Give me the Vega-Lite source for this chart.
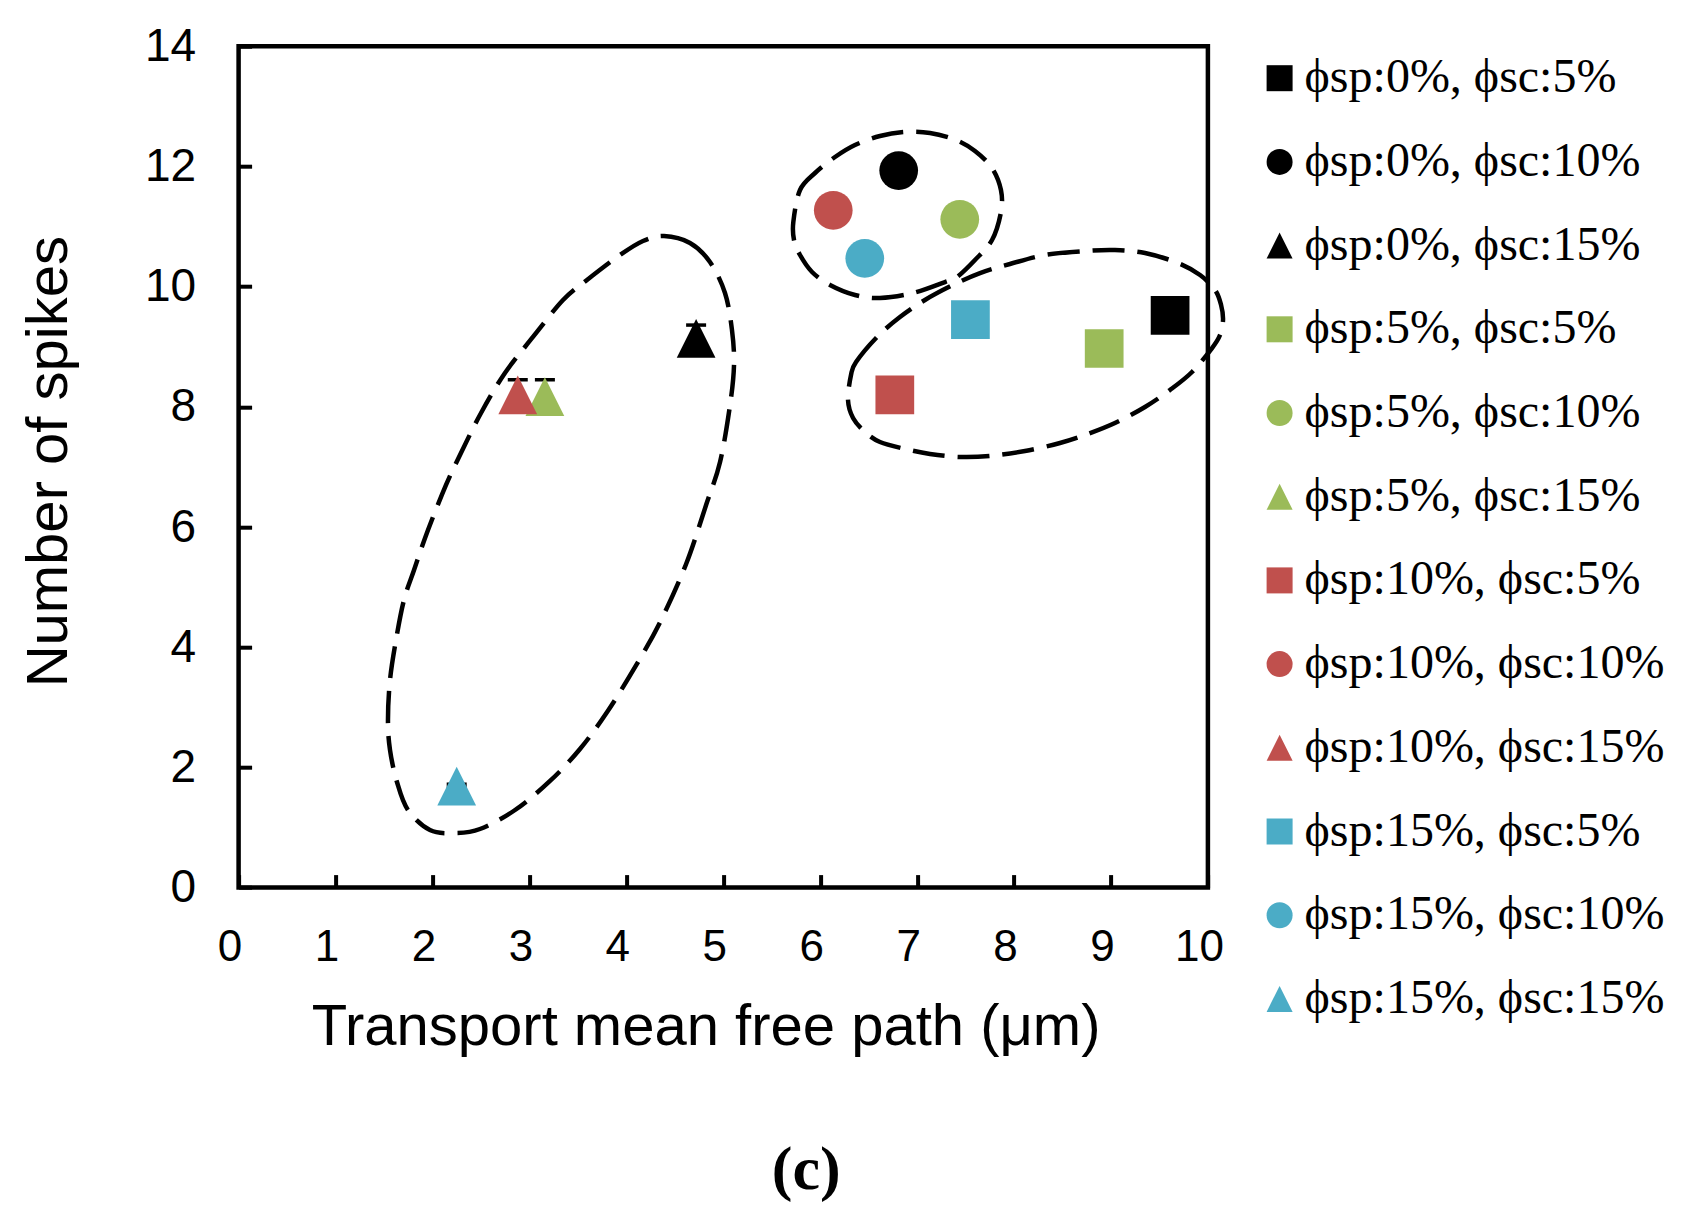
{
  "$schema": "https://vega.github.io/schema/vega-lite/v6.json",
  "width": 969.3,
  "height": 841.4,
  "autosize": {"type": "none"},
  "padding": {"left": 238.6, "top": 46.2, "right": 477.1, "bottom": 343.4},
  "background": "white",
  "title": {"text": "(c)", "orient": "bottom", "anchor": "middle", "frame": "group", "font": "Liberation Serif", "fontSize": 62, "fontWeight": "bold", "color": "black", "dx": 83, "offset": 83},
  "datasets": {
    "points": [
      {"series": "ϕsp:0%, ϕsc:5%", "x": 9.61, "y": 9.52},
      {"series": "ϕsp:0%, ϕsc:10%", "x": 6.81, "y": 11.93},
      {"series": "ϕsp:0%, ϕsc:15%", "x": 4.72, "y": 9.14},
      {"series": "ϕsp:5%, ϕsc:5%", "x": 8.93, "y": 8.97},
      {"series": "ϕsp:5%, ϕsc:10%", "x": 7.44, "y": 11.12},
      {"series": "ϕsp:5%, ϕsc:15%", "x": 3.16, "y": 8.17},
      {"series": "ϕsp:10%, ϕsc:5%", "x": 6.77, "y": 8.2},
      {"series": "ϕsp:10%, ϕsc:10%", "x": 6.135, "y": 11.27},
      {"series": "ϕsp:10%, ϕsc:15%", "x": 2.88, "y": 8.2},
      {"series": "ϕsp:15%, ϕsc:5%", "x": 7.55, "y": 9.45},
      {"series": "ϕsp:15%, ϕsc:10%", "x": 6.46, "y": 10.47},
      {"series": "ϕsp:15%, ϕsc:15%", "x": 2.25, "y": 1.69}
    ],
    "errors": [
      {"series": "ϕsp:0%, ϕsc:15%", "x": 4.72, "lo": 8.92, "hi": 9.36},
      {"series": "ϕsp:5%, ϕsc:15%", "x": 3.16, "lo": 7.9, "hi": 8.45},
      {"series": "ϕsp:10%, ϕsc:15%", "x": 2.88, "lo": 7.95, "hi": 8.45},
      {"series": "ϕsp:15%, ϕsc:15%", "x": 2.25, "lo": 1.66, "hi": 1.72}
    ],
    "ellipses": [
      {"g": 1, "i": 1, "x": 4.389, "y": 10.842},
      {"g": 1, "i": 2, "x": 4.657, "y": 10.726},
      {"g": 1, "i": 3, "x": 4.863, "y": 10.409},
      {"g": 1, "i": 4, "x": 5.018, "y": 9.894},
      {"g": 1, "i": 5, "x": 5.09, "y": 9.278},
      {"g": 1, "i": 6, "x": 5.111, "y": 8.696},
      {"g": 1, "i": 7, "x": 5.07, "y": 8.03},
      {"g": 1, "i": 8, "x": 4.967, "y": 7.082},
      {"g": 1, "i": 9, "x": 4.823, "y": 6.366},
      {"g": 1, "i": 10, "x": 4.617, "y": 5.384},
      {"g": 1, "i": 11, "x": 4.349, "y": 4.419},
      {"g": 1, "i": 12, "x": 4.091, "y": 3.671},
      {"g": 1, "i": 13, "x": 3.802, "y": 2.922},
      {"g": 1, "i": 14, "x": 3.522, "y": 2.306},
      {"g": 1, "i": 15, "x": 3.213, "y": 1.774},
      {"g": 1, "i": 16, "x": 2.852, "y": 1.291},
      {"g": 1, "i": 17, "x": 2.49, "y": 0.975},
      {"g": 1, "i": 18, "x": 2.232, "y": 0.908},
      {"g": 1, "i": 19, "x": 1.974, "y": 0.958},
      {"g": 1, "i": 20, "x": 1.747, "y": 1.291},
      {"g": 1, "i": 21, "x": 1.634, "y": 1.757},
      {"g": 1, "i": 22, "x": 1.562, "y": 2.29},
      {"g": 1, "i": 23, "x": 1.541, "y": 2.789},
      {"g": 1, "i": 24, "x": 1.562, "y": 3.454},
      {"g": 1, "i": 25, "x": 1.624, "y": 4.12},
      {"g": 1, "i": 26, "x": 1.706, "y": 4.785},
      {"g": 1, "i": 27, "x": 1.81, "y": 5.285},
      {"g": 1, "i": 28, "x": 1.954, "y": 5.95},
      {"g": 1, "i": 29, "x": 2.14, "y": 6.699},
      {"g": 1, "i": 30, "x": 2.284, "y": 7.198},
      {"g": 1, "i": 31, "x": 2.501, "y": 7.897},
      {"g": 1, "i": 32, "x": 2.748, "y": 8.563},
      {"g": 1, "i": 33, "x": 3.037, "y": 9.162},
      {"g": 1, "i": 34, "x": 3.347, "y": 9.777},
      {"g": 1, "i": 35, "x": 3.594, "y": 10.11},
      {"g": 1, "i": 36, "x": 3.935, "y": 10.526},
      {"g": 1, "i": 37, "x": 4.172, "y": 10.759},
      {"g": 2, "i": 1, "x": 5.723, "y": 11.075},
      {"g": 2, "i": 2, "x": 5.792, "y": 11.607},
      {"g": 2, "i": 3, "x": 5.947, "y": 11.89},
      {"g": 2, "i": 4, "x": 6.153, "y": 12.156},
      {"g": 2, "i": 5, "x": 6.359, "y": 12.356},
      {"g": 2, "i": 6, "x": 6.617, "y": 12.506},
      {"g": 2, "i": 7, "x": 6.875, "y": 12.573},
      {"g": 2, "i": 8, "x": 7.133, "y": 12.556},
      {"g": 2, "i": 9, "x": 7.401, "y": 12.439},
      {"g": 2, "i": 10, "x": 7.597, "y": 12.256},
      {"g": 2, "i": 11, "x": 7.773, "y": 11.973},
      {"g": 2, "i": 12, "x": 7.865, "y": 11.607},
      {"g": 2, "i": 13, "x": 7.865, "y": 11.241},
      {"g": 2, "i": 14, "x": 7.773, "y": 10.775},
      {"g": 2, "i": 15, "x": 7.597, "y": 10.443},
      {"g": 2, "i": 16, "x": 7.412, "y": 10.16},
      {"g": 2, "i": 17, "x": 7.288, "y": 10.076},
      {"g": 2, "i": 18, "x": 6.958, "y": 9.893},
      {"g": 2, "i": 19, "x": 6.617, "y": 9.81},
      {"g": 2, "i": 20, "x": 6.359, "y": 9.86},
      {"g": 2, "i": 21, "x": 6.101, "y": 10.027},
      {"g": 2, "i": 22, "x": 5.916, "y": 10.243},
      {"g": 2, "i": 23, "x": 5.792, "y": 10.526},
      {"g": 2, "i": 24, "x": 5.73, "y": 10.775},
      {"g": 3, "i": 1, "x": 6.318, "y": 8.529},
      {"g": 3, "i": 2, "x": 6.37, "y": 8.745},
      {"g": 3, "i": 3, "x": 6.586, "y": 9.161},
      {"g": 3, "i": 4, "x": 6.823, "y": 9.494},
      {"g": 3, "i": 5, "x": 7.081, "y": 9.777},
      {"g": 3, "i": 6, "x": 7.37, "y": 10.027},
      {"g": 3, "i": 7, "x": 7.649, "y": 10.226},
      {"g": 3, "i": 8, "x": 7.958, "y": 10.376},
      {"g": 3, "i": 9, "x": 8.319, "y": 10.526},
      {"g": 3, "i": 10, "x": 8.732, "y": 10.592},
      {"g": 3, "i": 11, "x": 9.041, "y": 10.609},
      {"g": 3, "i": 12, "x": 9.351, "y": 10.559},
      {"g": 3, "i": 13, "x": 9.692, "y": 10.393},
      {"g": 3, "i": 14, "x": 9.919, "y": 10.193},
      {"g": 3, "i": 15, "x": 10.074, "y": 9.943},
      {"g": 3, "i": 16, "x": 10.136, "y": 9.694},
      {"g": 3, "i": 17, "x": 10.156, "y": 9.444},
      {"g": 3, "i": 18, "x": 10.125, "y": 9.195},
      {"g": 3, "i": 19, "x": 10.043, "y": 8.978},
      {"g": 3, "i": 20, "x": 9.836, "y": 8.579},
      {"g": 3, "i": 21, "x": 9.609, "y": 8.28},
      {"g": 3, "i": 22, "x": 9.351, "y": 7.997},
      {"g": 3, "i": 23, "x": 9.041, "y": 7.73},
      {"g": 3, "i": 24, "x": 8.732, "y": 7.531},
      {"g": 3, "i": 25, "x": 8.474, "y": 7.398},
      {"g": 3, "i": 26, "x": 8.113, "y": 7.265},
      {"g": 3, "i": 27, "x": 7.752, "y": 7.182},
      {"g": 3, "i": 28, "x": 7.443, "y": 7.165},
      {"g": 3, "i": 29, "x": 7.133, "y": 7.215},
      {"g": 3, "i": 30, "x": 6.875, "y": 7.299},
      {"g": 3, "i": 31, "x": 6.617, "y": 7.414},
      {"g": 3, "i": 32, "x": 6.463, "y": 7.581},
      {"g": 3, "i": 33, "x": 6.339, "y": 7.814},
      {"g": 3, "i": 34, "x": 6.287, "y": 8.113}
    ]
  },
  "layer": [
    {
      "data": {"name": "ellipses"},
      "mark": {"type": "line", "interpolate": "cardinal-closed", "stroke": "black", "strokeWidth": 4.5, "strokeDash": [32, 13], "clip": false},
      "encoding": {
        "x": {"field": "x", "type": "quantitative", "scale": {"domain": [0, 10], "nice": false, "zero": false}, "title": "Transport mean free path (μm)"},
        "y": {"field": "y", "type": "quantitative", "scale": {"domain": [0, 14], "nice": false, "zero": false}, "title": "Number of spikes"},
        "detail": {"field": "g", "type": "nominal"},
        "order": {"field": "i", "type": "quantitative"}
      }
    },
    {
      "data": {"name": "errors"},
      "mark": {"type": "rule", "color": "black", "strokeWidth": 2.5},
      "encoding": {
        "x": {"field": "x", "type": "quantitative", "title": "Transport mean free path (μm)"},
        "y": {"field": "lo", "type": "quantitative", "title": "Number of spikes"},
        "y2": {"field": "hi"}
      }
    },
    {
      "data": {"name": "errors"},
      "mark": {"type": "tick", "orient": "horizontal", "color": "black", "size": 20, "thickness": 3.5, "opacity": 1},
      "encoding": {
        "x": {"field": "x", "type": "quantitative", "title": "Transport mean free path (μm)"},
        "y": {"field": "hi", "type": "quantitative", "title": "Number of spikes"}
      }
    },
    {
      "data": {"name": "errors"},
      "mark": {"type": "tick", "orient": "horizontal", "color": "black", "size": 20, "thickness": 3.5, "opacity": 1},
      "encoding": {
        "x": {"field": "x", "type": "quantitative", "title": "Transport mean free path (μm)"},
        "y": {"field": "lo", "type": "quantitative", "title": "Number of spikes"}
      }
    },
    {
      "data": {"name": "points"},
      "mark": {"type": "point", "filled": true, "size": 1500, "opacity": 1, "strokeWidth": 0},
      "encoding": {
        "x": {"field": "x", "type": "quantitative", "title": "Transport mean free path (μm)",
          "axis": {"values": [0, 1, 2, 3, 4, 5, 6, 7, 8, 9, 10], "format": "d", "labelOverlap": false, "labelFlush": false}},
        "y": {"field": "y", "type": "quantitative", "title": "Number of spikes",
          "axis": {"values": [0, 2, 4, 6, 8, 10, 12, 14], "format": "d", "labelOverlap": false, "labelFlush": false}},
        "color": {
          "field": "series", "type": "nominal",
          "scale": {
            "domain": ["ϕsp:0%, ϕsc:5%", "ϕsp:0%, ϕsc:10%", "ϕsp:0%, ϕsc:15%", "ϕsp:5%, ϕsc:5%", "ϕsp:5%, ϕsc:10%", "ϕsp:5%, ϕsc:15%", "ϕsp:10%, ϕsc:5%", "ϕsp:10%, ϕsc:10%", "ϕsp:10%, ϕsc:15%", "ϕsp:15%, ϕsc:5%", "ϕsp:15%, ϕsc:10%", "ϕsp:15%, ϕsc:15%"],
            "range": ["#000000", "#000000", "#000000", "#9BBB59", "#9BBB59", "#9BBB59", "#C0504D", "#C0504D", "#C0504D", "#4BACC6", "#4BACC6", "#4BACC6"]
          },
          "legend": {"orient": "none", "legendX": 1017, "legendY": 8, "title": null, "symbolSize": 676, "labelFont": "Liberation Serif", "labelFontSize": 48, "labelColor": "black", "labelOffset": 1, "rowPadding": 35.7, "labelLimit": 0, "symbolStrokeWidth": 0, "symbolOpacity": 1, "padding": 0}
        },
        "shape": {
          "field": "series", "type": "nominal",
          "scale": {
            "domain": ["ϕsp:0%, ϕsc:5%", "ϕsp:0%, ϕsc:10%", "ϕsp:0%, ϕsc:15%", "ϕsp:5%, ϕsc:5%", "ϕsp:5%, ϕsc:10%", "ϕsp:5%, ϕsc:15%", "ϕsp:10%, ϕsc:5%", "ϕsp:10%, ϕsc:10%", "ϕsp:10%, ϕsc:15%", "ϕsp:15%, ϕsc:5%", "ϕsp:15%, ϕsc:10%", "ϕsp:15%, ϕsc:15%"],
            "range": ["square", "circle", "M0,-1L1,1L-1,1Z", "square", "circle", "M0,-1L1,1L-1,1Z", "square", "circle", "M0,-1L1,1L-1,1Z", "square", "circle", "M0,-1L1,1L-1,1Z"]
          },
          "legend": {"orient": "none", "legendX": 1017, "legendY": 8, "title": null, "symbolSize": 676, "labelFont": "Liberation Serif", "labelFontSize": 48, "labelColor": "black", "labelOffset": 1, "rowPadding": 35.7, "labelLimit": 0, "symbolStrokeWidth": 0, "symbolOpacity": 1, "padding": 0}
        }
      }
    }
  ],
  "config": {
    "view": {"stroke": "black", "strokeWidth": 4.5},
    "axis": {
      "domain": false, "grid": false,
      "ticks": true, "tickColor": "black", "tickWidth": 4, "tickSize": -13,
      "labelFont": "Liberation Sans", "labelFontSize": 44, "labelColor": "black",
      "titleFont": "Liberation Sans", "titleFontSize": 58, "titleFontWeight": "normal", "titleColor": "black"
    },
    "axisX": {"labelPadding": 51, "labelOffset": -9, "labelFontSize": 44, "titleX": 467, "titleY": 157, "titleBaseline": "alphabetic", "titleAnchor": "middle", "titleAlign": "center"},
    "axisY": {"labelPadding": 56, "labelFontSize": 46, "titleX": -172, "titleY": 415, "titleBaseline": "alphabetic", "titleAlign": "center", "titleAngle": -90}
  }
}
